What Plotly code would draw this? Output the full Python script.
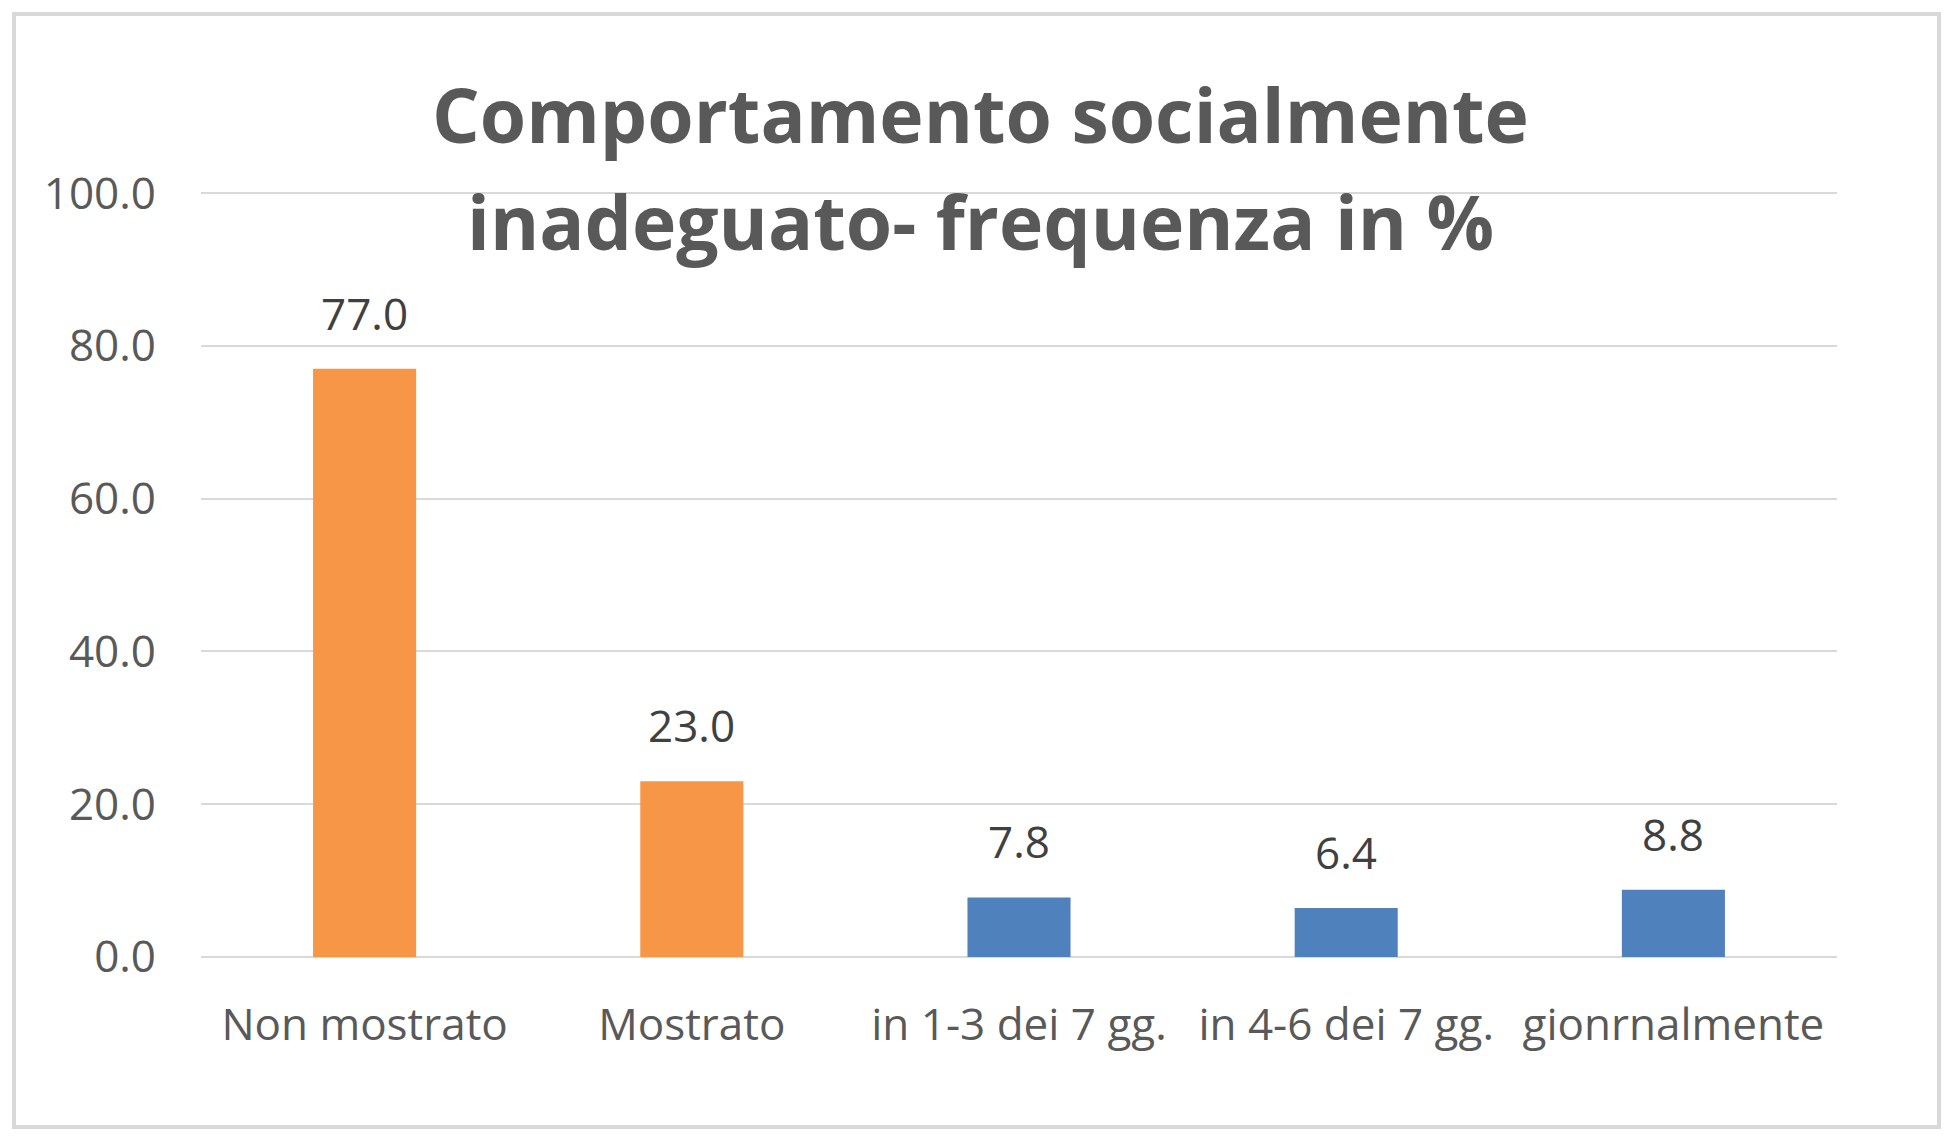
import plotly.graph_objects as go

categories = ["Non mostrato", "Mostrato", "in 1-3 dei 7 gg.", "in 4-6 dei 7 gg.", "gionrnalmente"]
values = [77.0, 23.0, 7.8, 6.4, 8.8]
bar_colors = ["#F79646", "#F79646", "#4F81BD", "#4F81BD", "#4F81BD"]
y_ticks = [0, 20, 40, 60, 80, 100]

title_lines = ["Comportamento socialmente", "inadeguato- frequenza in %"]

# page has an 8px body margin, so the figure is a bit smaller than the window
W, H = 1933, 1121
m_l, m_r, m_t, m_b = 193, 104, 184, 172
pw, ph = W - m_l - m_r, H - m_t - m_b

font_family = "Open Sans, Noto Sans, sans-serif"
tick_color = "#595959"
grid_color = "#D9D9D9"


def px_x(px):
    return (px - m_l) / pw


def px_y(py):
    return (H - m_b - py) / ph


fig = go.Figure()

fig.add_trace(go.Bar(
    x=categories,
    y=values,
    marker=dict(color=bar_colors, line=dict(width=0)),
    hoverinfo="skip",
    showlegend=False
))

# data labels above bars
for cat, val in zip(categories, values):
    fig.add_annotation(
        x=cat, y=val, text=f"{val:.1f}",
        showarrow=False, yanchor="bottom", yshift=24,
        font=dict(family=font_family, size=44, color="#404040")
    )

# two-line title
for line, ymid in zip(title_lines, [106, 213]):
    fig.add_annotation(
        text=line, xref="paper", yref="paper",
        x=px_x(972), y=px_y(ymid), xanchor="center", yanchor="middle",
        showarrow=False,
        font=dict(family=font_family, size=75, color=tick_color, weight="bold")
    )

# outer chart border
fig.add_shape(
    type="rect", xref="paper", yref="paper",
    x0=px_x(6), x1=px_x(1931), y0=px_y(1119), y1=px_y(6),
    line=dict(color=grid_color, width=4), fillcolor="rgba(0,0,0,0)",
    layer="below"
)

fig.update_layout(
    width=W,
    height=H,
    margin=dict(l=m_l, r=m_r, t=m_t, b=m_b),
    paper_bgcolor="white",
    plot_bgcolor="white",
    bargap=0.685,
    xaxis=dict(
        showgrid=False,
        showline=False,
        ticks="",
        ticklabelstandoff=38,
        tickfont=dict(family=font_family, size=44, color=tick_color)
    ),
    yaxis=dict(
        range=[0, 100.15],  # tiny headroom so the 100 gridline is drawn
        tickvals=y_ticks,
        tickformat=".1f",
        showgrid=True,
        gridcolor=grid_color,
        gridwidth=2,
        zeroline=True,
        zerolinecolor=grid_color,
        zerolinewidth=2,
        showline=False,
        ticks="",
        ticklabelstandoff=44,
        tickfont=dict(family=font_family, size=44, color=tick_color)
    )
)

fig.write_html("out.html")
